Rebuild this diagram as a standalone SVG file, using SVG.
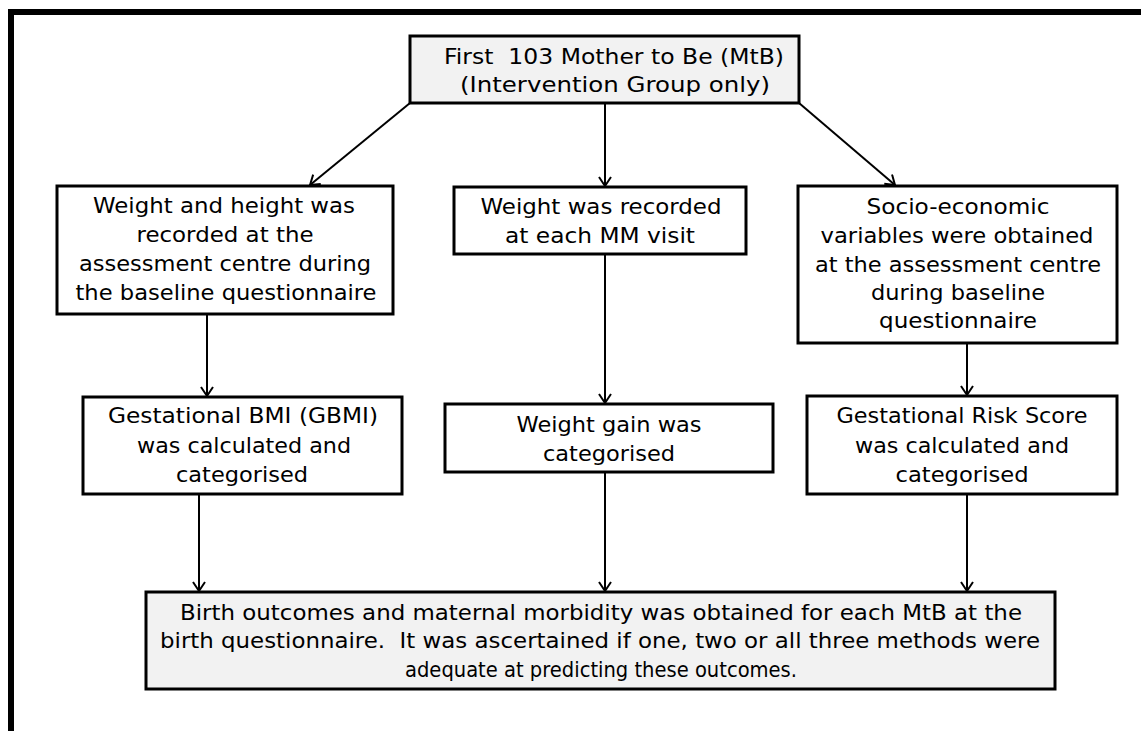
<svg xmlns="http://www.w3.org/2000/svg" width="1141" height="731" viewBox="0 0 1141 731">
<defs>
<style>
.box{fill:#ffffff;stroke:#000;stroke-width:3}
.gbox{fill:#f2f2f2;stroke:#000;stroke-width:3}
.t{font-family:"DejaVu Sans","Liberation Sans",sans-serif;font-size:21px;fill:#000;text-anchor:middle;white-space:pre}
.c{stroke:#000;stroke-width:2;fill:none}
</style>
<marker id="ah" viewBox="0 0 12 14" refX="10" refY="7" markerWidth="12" markerHeight="14" markerUnits="userSpaceOnUse" orient="auto">
<path d="M1,1 L10,7 L1,13" fill="none" stroke="#000" stroke-width="2"/>
</marker>
</defs>
<rect width="1141" height="731" fill="#fff"/>
<g id="frame">
<rect x="8" y="9" width="6" height="722" fill="#000"/>
<rect x="8" y="9" width="1133" height="6" fill="#000"/>
</g>
<g id="connectors">
<line class="c" x1="410" y1="103" x2="310" y2="185" marker-end="url(#ah)"/>
<line class="c" x1="605" y1="103" x2="605" y2="186" marker-end="url(#ah)"/>
<line class="c" x1="799" y1="103" x2="895" y2="185" marker-end="url(#ah)"/>
<line class="c" x1="207" y1="314" x2="207" y2="396" marker-end="url(#ah)"/>
<line class="c" x1="605" y1="254" x2="605" y2="403" marker-end="url(#ah)"/>
<line class="c" x1="967" y1="343" x2="967" y2="395" marker-end="url(#ah)"/>
<line class="c" x1="199" y1="494" x2="199" y2="591" marker-end="url(#ah)"/>
<line class="c" x1="605" y1="472" x2="605" y2="591" marker-end="url(#ah)"/>
<line class="c" x1="967" y1="494" x2="967" y2="591" marker-end="url(#ah)"/>
</g>
<g id="n-top">
<rect class="gbox" x="410" y="36" width="389" height="67"/>
<text class="t" x="614" y="64" textLength="340" lengthAdjust="spacingAndGlyphs">First  103 Mother to Be (MtB)</text>
<text class="t" x="615" y="92" textLength="310" lengthAdjust="spacingAndGlyphs">(Intervention Group only)</text>
</g>
<g id="n-weight-height">
<rect class="box" x="57" y="186" width="336" height="128"/>
<text class="t" x="224" y="213" textLength="262" lengthAdjust="spacingAndGlyphs">Weight and height was</text>
<text class="t" x="225" y="242" textLength="177" lengthAdjust="spacingAndGlyphs">recorded at the</text>
<text class="t" x="225" y="271" textLength="292" lengthAdjust="spacingAndGlyphs">assessment centre during</text>
<text class="t" x="226" y="300" textLength="301" lengthAdjust="spacingAndGlyphs">the baseline questionnaire</text>
</g>
<g id="n-weight">
<rect class="box" x="454" y="187" width="292" height="67"/>
<text class="t" x="601" y="214" textLength="241" lengthAdjust="spacingAndGlyphs">Weight was recorded</text>
<text class="t" x="600" y="243" textLength="190" lengthAdjust="spacingAndGlyphs">at each MM visit</text>
</g>
<g id="n-socio">
<rect class="box" x="798" y="186" width="319" height="157"/>
<text class="t" x="958" y="214" textLength="183" lengthAdjust="spacingAndGlyphs">Socio-economic</text>
<text class="t" x="957" y="243" textLength="273" lengthAdjust="spacingAndGlyphs">variables were obtained</text>
<text class="t" x="958" y="272" textLength="286" lengthAdjust="spacingAndGlyphs">at the assessment centre</text>
<text class="t" x="958" y="300" textLength="174" lengthAdjust="spacingAndGlyphs">during baseline</text>
<text class="t" x="958" y="328" textLength="158" lengthAdjust="spacingAndGlyphs">questionnaire</text>
</g>
<g id="n-gbmi">
<rect class="box" x="83" y="397" width="319" height="97"/>
<text class="t" x="243" y="423" textLength="270" lengthAdjust="spacingAndGlyphs">Gestational BMI (GBMI)</text>
<text class="t" x="244" y="453" textLength="214" lengthAdjust="spacingAndGlyphs">was calculated and</text>
<text class="t" x="242" y="482" textLength="132" lengthAdjust="spacingAndGlyphs">categorised</text>
</g>
<g id="n-gain">
<rect class="box" x="445" y="404" width="328" height="68"/>
<text class="t" x="609" y="432" textLength="185" lengthAdjust="spacingAndGlyphs">Weight gain was</text>
<text class="t" x="609" y="461" textLength="132" lengthAdjust="spacingAndGlyphs">categorised</text>
</g>
<g id="n-risk">
<rect class="box" x="807" y="396" width="310" height="98"/>
<text class="t" x="962" y="423" textLength="251" lengthAdjust="spacingAndGlyphs">Gestational Risk Score</text>
<text class="t" x="962" y="453" textLength="214" lengthAdjust="spacingAndGlyphs">was calculated and</text>
<text class="t" x="962" y="482" textLength="133" lengthAdjust="spacingAndGlyphs">categorised</text>
</g>
<g id="n-outcome">
<rect class="gbox" x="146" y="592" width="909" height="97"/>
<text class="t" x="601" y="620" textLength="842" lengthAdjust="spacingAndGlyphs">Birth outcomes and maternal morbidity was obtained for each MtB at the</text>
<text class="t" x="600" y="648" textLength="880" lengthAdjust="spacingAndGlyphs">birth questionnaire.  It was ascertained if one, two or all three methods were</text>
<text class="t" x="601" y="677" textLength="392" lengthAdjust="spacingAndGlyphs">adequate at predicting these outcomes.</text>
</g>
</svg>
